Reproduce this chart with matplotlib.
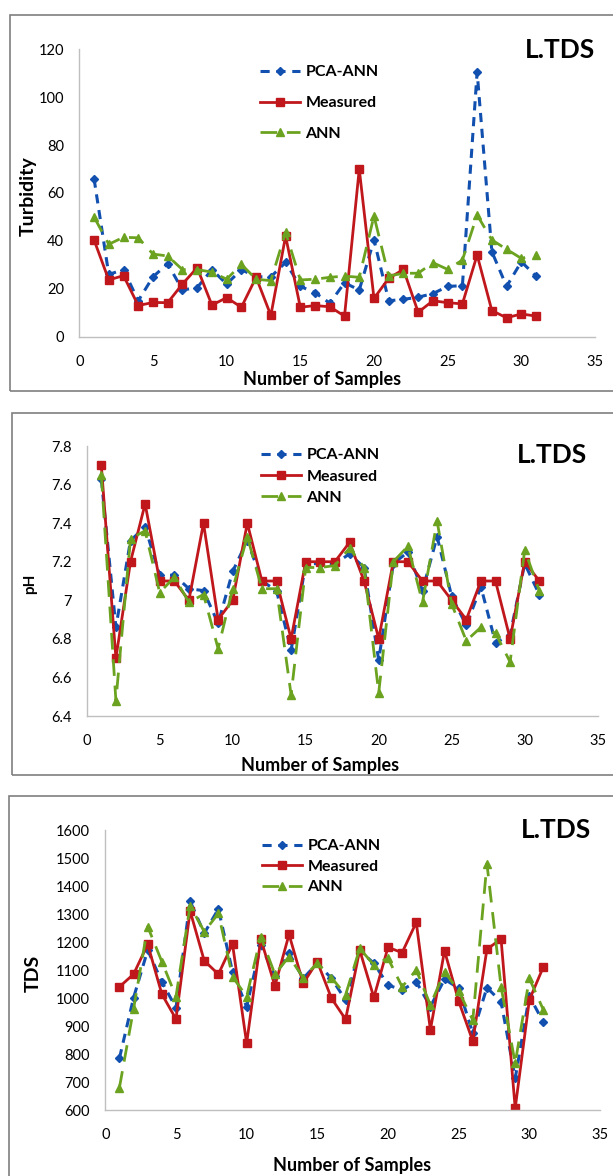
import numpy as np
import matplotlib
matplotlib.use("Agg")
import matplotlib.pyplot as plt
from matplotlib.patches import Rectangle
from matplotlib.lines import Line2D

plt.rcParams['font.family'] = ['Lato', 'DejaVu Sans']

samples = np.arange(1, 32)

# Turbidity
turb_pca = [66, 26, 28, 15, 25, 30.5, 19.5, 20.5, 28, 22, 28, 25, 25, 31, 21,
            18.4, 14, 22.5, 19.5, 40.4, 15, 15.6, 16.5, 18, 21, 21.3, 110.5, 35.5, 21, 31.3, 25.3]
turb_meas = [40.4, 23.7, 25.5, 13, 14.3, 14.2, 22, 28.8, 13.2, 16.3, 12.3, 24.8, 8.9, 42, 12.3,
             13, 12.5, 8.6, 70, 16, 24.4, 28.1, 10.2, 15, 14.2, 13.7, 34.1, 10.9, 7.9, 9.5, 8.6]
turb_ann = [50, 38.6, 41.5, 41.3, 34.5, 33.7, 28, 28, 27, 24, 30.2, 24, 23.4, 43.6, 23.7,
            24, 24.8, 25.3, 24.8, 50.4, 25.3, 26.5, 26.5, 30.9, 28.1, 32, 50.8, 40.4, 36.5, 32.7, 34.1]

# pH
ph_pca = [7.63, 6.86, 7.31, 7.38, 7.13, 7.13, 7.06, 7.05, 6.88, 7.15, 7.31, 7.1, 7.05, 6.74, 7.19,
          7.19, 7.19, 7.24, 7.17, 6.69, 7.19, 7.25, 7.05, 7.33, 7.02, 6.87, 7.07, 6.78, 6.82, 7.19, 7.03]
ph_meas = [7.7, 6.7, 7.2, 7.5, 7.1, 7.1, 7.0, 7.4, 6.9, 7.0, 7.4, 7.1, 7.1, 6.8, 7.2,
           7.2, 7.2, 7.3, 7.1, 6.8, 7.2, 7.2, 7.1, 7.1, 7.0, 6.9, 7.1, 7.1, 6.8, 7.2, 7.1]
ph_ann = [7.65, 6.48, 7.32, 7.36, 7.04, 7.12, 6.99, 7.03, 6.75, 7.06, 7.33, 7.06, 7.06, 6.51, 7.17,
          7.17, 7.18, 7.27, 7.17, 6.52, 7.2, 7.28, 6.99, 7.41, 6.98, 6.79, 6.86, 6.83, 6.68, 7.26, 7.05]

# TDS
tds_pca = [785, 1001, 1171, 1058, 965, 1346, 1231, 1318, 1094, 969, 1189, 1079, 1160, 1070, 1124,
           1070, 993, 1169, 1124, 1046, 1029, 1058, 969, 1067, 1035, 874, 1037, 987, 713, 1007, 913]
tds_meas = [1040, 1085, 1192, 1014, 925, 1311, 1133, 1085, 1193, 838, 1211, 1043, 1227, 1052, 1130,
            999, 924, 1171, 1002, 1181, 1162, 1270, 886, 1169, 989, 846, 1174, 1211, 606, 993, 1112]
tds_ann = [680, 961, 1255, 1130, 1005, 1330, 1237, 1302, 1076, 1005, 1219, 1085, 1148, 1073, 1124,
           1073, 1011, 1177, 1118, 1142, 1040, 1100, 975, 1094, 1025, 921, 1480, 1040, 767, 1070, 957]

labels = ['PCA-ANN', 'Measured', 'ANN']
c_pca = '#1250B0'
c_meas = '#C0171C'
c_ann = '#6BA320'

W, H = 613, 1176
fig = plt.figure(figsize=(W / 100, H / 100), dpi=100)


def fx(px):
    return px / W


def fy(py):
    return 1 - py / H


def add_frame(x0, y0, x1, y1):
    fig.patches.append(Rectangle((fx(x0), fy(y1)), fx(x1 - x0), (y1 - y0) / H,
                                 transform=fig.transFigure, fill=False,
                                 edgecolor='#7F7F7F', linewidth=1.2))


def make_panel(box, ylim, yticks, ytlabels, ylabel, ylabel_x, ylabel_size,
               xlab_xy, data, leg_xy, leg_space, title_xy):
    left, top, right, bottom = box
    ax = fig.add_axes([fx(left), fy(bottom), fx(right - left), (bottom - top) / H])
    pca, meas, ann = data
    ax.plot(samples, pca, color=c_pca, linewidth=2.2, dashes=(3, 2.2),
            marker='D', markersize=4, label=labels[0])
    ax.plot(samples, meas, color=c_meas, linewidth=2.0,
            marker='s', markersize=6, label=labels[1])
    ax.plot(samples, ann, color=c_ann, linewidth=2.0, dashes=(6, 3.5),
            marker='^', markersize=6, label=labels[2])
    ax.set_xlim(0, 35)
    ax.set_ylim(*ylim)
    ax.set_xticks(range(0, 36, 5))
    ax.set_yticks(yticks)
    ax.set_yticklabels(ytlabels)
    ax.tick_params(length=0, labelsize=10.5, colors='#000000')
    ax.tick_params(axis='x', pad=13)
    ax.tick_params(axis='y', pad=11)
    for s in ['top', 'right']:
        ax.spines[s].set_visible(False)
    for s in ['left', 'bottom']:
        ax.spines[s].set_color('#BFBFBF')
        ax.spines[s].set_linewidth(1.0)
    ax.patch.set_alpha(0)
    fig.text(fx(ylabel_x), fy((top + bottom) / 2 + 3), ylabel, rotation=90,
             ha='center', va='center', fontsize=ylabel_size, fontweight='bold')
    fig.text(fx(xlab_xy[0]), fy(xlab_xy[1]), 'Number of Samples',
             ha='center', va='center', fontsize=13, fontweight='bold')
    fig.text(fx(title_xy[0]), fy(title_xy[1]), 'L.TDS', ha='center', va='center',
             fontsize=19, fontweight='bold')
    handles = [
        Line2D([], [], color=c_pca, linewidth=2.2, dashes=(3, 2.2), marker='D', markersize=4),
        Line2D([], [], color=c_meas, linewidth=2.0, marker='s', markersize=6),
        Line2D([], [], color=c_ann, linewidth=2.0, dashes=(6, 3.5), marker='^', markersize=6),
    ]
    ax.legend(handles, labels, loc='upper left',
              bbox_to_anchor=(fx(leg_xy[0]), fy(leg_xy[1])),
              bbox_transform=fig.transFigure, frameon=False, numpoints=1,
              handlelength=2.5, handletextpad=0.35, labelspacing=leg_space,
              borderpad=0, borderaxespad=0,
              prop={'weight': 'bold', 'size': 11.5})
    return ax


# frames
add_frame(10, 15, 640, 391)
add_frame(12, 413, 640, 775)
add_frame(9, 796, 640, 1200)

make_panel((79.3, 49.3, 595, 336.7), (0, 120), range(0, 121, 20),
           [str(v) for v in range(0, 121, 20)], 'Turbidity', 28, 14,
           (322, 380), (turb_pca, turb_meas, turb_ann), (260, 65), 1.05, (560, 50))

ph_ticks = np.round(np.arange(6.4, 7.81, 0.2), 1)
make_panel((86.7, 446, 597.7, 716), (6.4, 7.8), ph_ticks,
           [('%g' % v) for v in ph_ticks], 'pH', 30, 11,
           (320, 766), (ph_pca, ph_meas, ph_ann), (261, 448), 0.45, (552, 455))

make_panel((105.3, 830, 600, 1110), (600, 1600), range(600, 1601, 100),
           [str(v) for v in range(600, 1601, 100)], 'TDS', 33, 14,
           (352, 1165), (tds_pca, tds_meas, tds_ann), (262, 839), 0.4, (556, 830))

fig.savefig('out.png', dpi=100)
